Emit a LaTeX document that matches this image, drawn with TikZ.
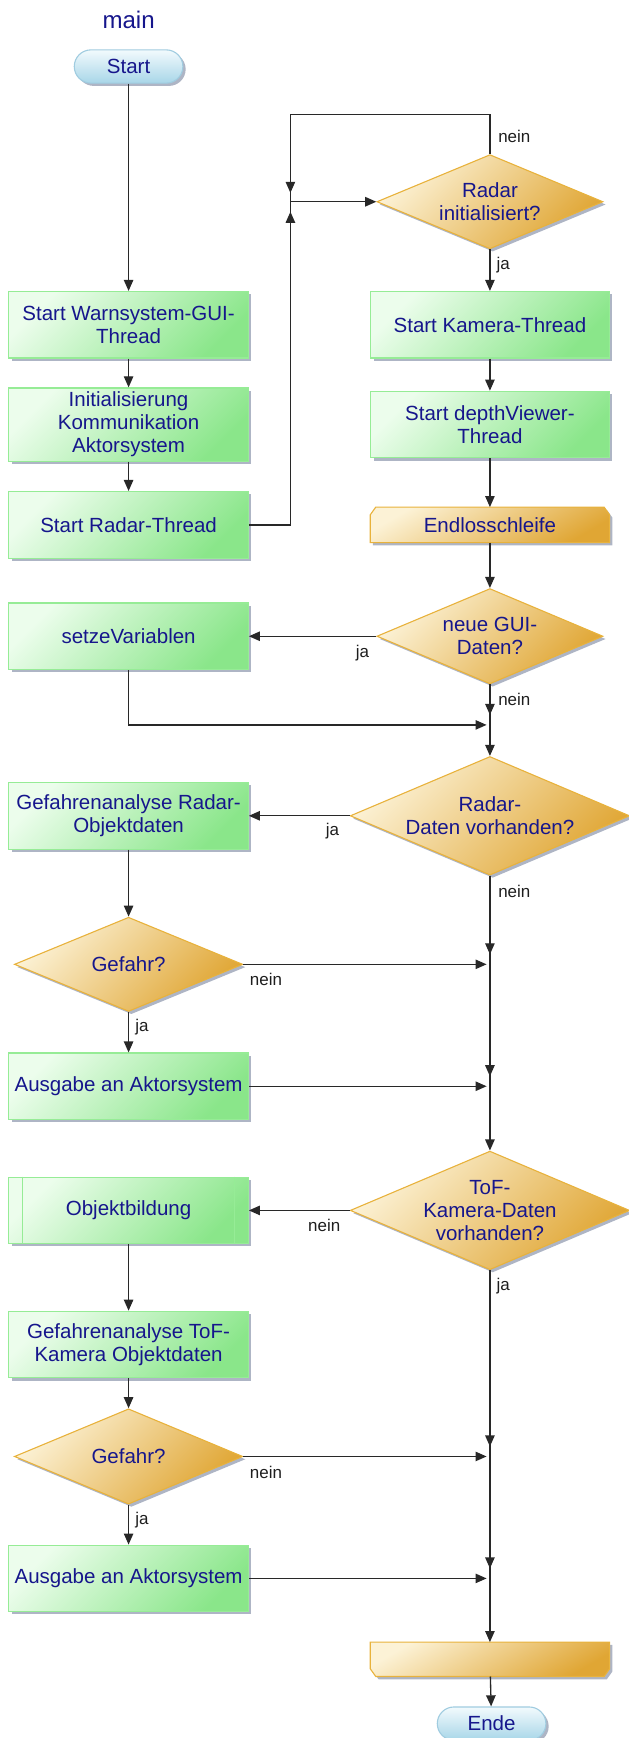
\documentclass[tikz,border=0pt]{standalone}
\usepackage{fontspec}
\setmainfont{Liberation Sans}
\usetikzlibrary{arrows.meta,shapes.geometric,shadows,calc,backgrounds}

\definecolor{txtblue}{RGB}{22,22,140}
\definecolor{lblgray}{RGB}{30,30,30}
\definecolor{linegray}{RGB}{40,40,40}
\definecolor{greenlight}{RGB}{236,253,236}
\definecolor{greendark}{RGB}{138,230,138}
\definecolor{greenedge}{RGB}{150,236,150}
\definecolor{goldlight}{RGB}{252,242,214}
\definecolor{golddark}{RGB}{224,166,52}
\definecolor{goldedge}{RGB}{232,178,60}
\definecolor{bluelight}{RGB}{242,250,253}
\definecolor{bluedark}{RGB}{168,214,232}
\definecolor{blueedge}{RGB}{160,204,224}
\definecolor{shadowc}{RGB}{140,150,172}

\begin{document}
\begin{tikzpicture}[x=1pt,y=-1pt,
  shadowed/.style={drop shadow={shadow xshift=2.5pt, shadow yshift=-2.5pt, fill=shadowc, opacity=0.7}},
  base/.style={font=\fontsize{18.5}{20.8}\selectfont, text=txtblue, align=center,
    inner sep=0pt, line width=1pt},
  proc/.style={base, shadowed, rectangle, draw=greenedge, top color=greenlight,
    bottom color=greendark, shading angle=45, minimum width=216pt, minimum height=60pt},
  dec/.style={base, shadowed, diamond, draw=goldedge, top color=goldlight,
    bottom color=golddark, shading angle=45},
  term/.style={base, shadowed, rectangle, rounded corners=15pt, draw=blueedge, top color=bluelight,
    bottom color=bluedark, minimum width=98pt, minimum height=30pt},
  loopnode/.style={base, rectangle, minimum width=215pt, minimum height=31pt},
  loopfill/.style={shadowed, draw=goldedge, line width=1pt, top color=goldlight,
    bottom color=golddark, shading angle=30},
  line/.style={draw=linegray, line width=1.2pt},
  flow/.style={line, -{Triangle[length=10pt,width=8.5pt]}},
  lbl/.style={font=\fontsize{15.3}{17}\selectfont, text=lblgray, inner sep=0pt}
]
\useasboundingbox (0,0) rectangle (567,1568);

% title
\node[font=\fontsize{21.7}{24}\selectfont, text=txtblue] (title) at (116,18) {main};

% initialisation column
\node[term] (start) at (116,60) {Start};
\node[proc] (gui) at (116,293) {Start Warnsystem-GUI-\\Thread};
\node[proc, minimum height=66pt] (komm) at (116,383) {Initialisierung\\Kommunikation\\Aktorsystem};
\node[proc] (radar) at (116,473.5) {Start Radar-Thread};

% radar wait loop and threads
\node[dec, minimum width=204pt, minimum height=85pt, aspect=2.4] (rinit) at (442,182) {Radar\\initialisiert?};
\node[proc, minimum width=215pt] (kam) at (442,293) {Start Kamera-Thread};
\node[proc, minimum width=215pt] (depth) at (442,383) {Start depthViewer-\\Thread};
\node[loopnode] (loopA) at (442,473.5) {Endlosschleife};

\coordinate (K) at (262,182);
\coordinate (Ktop) at (262,103);

% main loop body
\node[dec, minimum width=204pt, minimum height=86pt, aspect=2.37] (gdat) at (442,574) {neue GUI-\\Daten?};
\node[proc] (setz) at (116,574) {setzeVariablen};
\coordinate (J0) at (442,654);

\node[dec, minimum width=252pt, minimum height=107pt, aspect=2.35] (rdat) at (442,736) {Radar-\\Daten vorhanden?};
\node[proc] (garad) at (116,736) {Gefahrenanalyse Radar-\\Objektdaten};
\node[dec, minimum width=206pt, minimum height=85pt, aspect=2.42] (gef1) at (116,870) {Gefahr?};
\coordinate (J1) at (442,870);
\node[proc] (aus1) at (116,980) {Ausgabe an Aktorsystem};
\coordinate (J2) at (442,980);

\node[dec, minimum width=252pt, minimum height=107pt, aspect=2.35, inner sep=-5pt] (tof) at (442,1092) {ToF-\\Kamera-Daten\\vorhanden?};
\node[proc] (obj) at (116,1092) {Objektbildung};
\node[proc] (gatof) at (116,1213) {Gefahrenanalyse ToF-\\Kamera Objektdaten};
\node[dec, minimum width=206pt, minimum height=86pt, aspect=2.4] (gef2) at (116,1314) {Gefahr?};
\coordinate (J3) at (442,1314);
\node[proc] (aus2) at (116,1424) {Ausgabe an Aktorsystem};
\coordinate (J4) at (442,1424);

\node[loopnode, minimum height=30pt] (loopB) at (442,1497) {};
\node[term] (ende) at (443.5,1555) {Ende};

% loop limit outlines (top corners cut for the start, bottom corners for the end)
\begin{scope}[on background layer]
  \path[loopfill] (loopA.south west) -- ([yshift=-7pt]loopA.north west)
    -- ([xshift=5pt]loopA.north west) -- ([xshift=-5pt]loopA.north east)
    -- ([yshift=-7pt]loopA.north east) -- (loopA.south east) -- cycle;
  \path[loopfill] (loopB.north west) -- (loopB.north east)
    -- ([yshift=7pt]loopB.south east) -- ([xshift=-5pt]loopB.south east)
    -- ([xshift=5pt]loopB.south west) -- ([yshift=7pt]loopB.south west) -- cycle;
\end{scope}

% predefined-process side bars
\draw[draw=greenedge, line width=1pt] ([xshift=13pt]obj.north west) -- ([xshift=13pt]obj.south west);
\draw[draw=greenedge, line width=1pt] ([xshift=-13pt]obj.north east) -- ([xshift=-13pt]obj.south east);

% connectors: start sequence
\draw[flow] (start) -- (gui);
\draw[flow] (gui) -- (komm);
\draw[flow] (komm) -- (radar);

% radar initialisation loop
\draw[line] (rinit.north) |- (Ktop) -- (K);
\draw[line] (radar.east) -| (K);
\draw[flow] (Ktop) -- ([yshift=8pt]K);
\draw[flow] (radar.east -| K) -- ([yshift=-9pt]K);
\draw[flow] (K) -- (rinit.west);
\draw[flow] (rinit) -- (kam);
\draw[flow] (kam) -- (depth);
\draw[flow] (depth) -- (loopA);
\draw[flow] (loopA) -- (gdat);

% GUI data
\draw[flow] (gdat.west) -- (setz.east);
\draw[line] (gdat.south) -- (J0);
\draw[flow] (gdat.south) -- ([yshift=9pt]J0);
\draw[flow] (setz.south) |- ([xshift=-3pt]J0);
\draw[flow] (J0) -- (rdat.north);

% radar data
\draw[flow] (rdat.west) -- (garad.east);
\draw[flow] (garad) -- (gef1);
\draw[flow] (gef1) -- (aus1);
\draw[flow] (gef1.east) -- ([xshift=-3pt]J1);
\draw[flow] (aus1.east) -- ([xshift=-3pt]J2);
\draw[line] (rdat.south) -- (J2);
\draw[flow] (rdat.south) -- ([yshift=9pt]J1);
\draw[flow] (J1) -- ([yshift=9pt]J2);
\draw[flow] (J2) -- (tof.north);

% camera data
\draw[flow] (tof.west) -- (obj.east);
\draw[flow] (obj) -- (gatof);
\draw[flow] (gatof) -- (gef2);
\draw[flow] (gef2) -- (aus2);
\draw[flow] (gef2.east) -- ([xshift=-3pt]J3);
\draw[flow] (aus2.east) -- ([xshift=-3pt]J4);
\draw[line] (tof.south) -- (J4);
\draw[flow] (tof.south) -- ([yshift=9pt]J3);
\draw[flow] (J3) -- ([yshift=9pt]J4);
\draw[flow] (J4) -- (loopB.north);
\draw[flow] (loopB) -- (ende);

% branch labels
\node[lbl] (l1) at (464,123) {nein};
\node[lbl] (l2) at (454,239) {ja};
\node[lbl] (l3) at (327,589) {ja};
\node[lbl] (l4) at (464,631) {nein};
\node[lbl] (l5) at (300,750) {ja};
\node[lbl] (l6) at (464,804) {nein};
\node[lbl] (l7) at (240,884) {nein};
\node[lbl] (l8) at (128,927) {ja};
\node[lbl] (l9) at (292.5,1106) {nein};
\node[lbl] (l10) at (454,1160) {ja};
\node[lbl] (l11) at (240,1328) {nein};
\node[lbl] (l12) at (128,1371) {ja};
\end{tikzpicture}
\end{document}
